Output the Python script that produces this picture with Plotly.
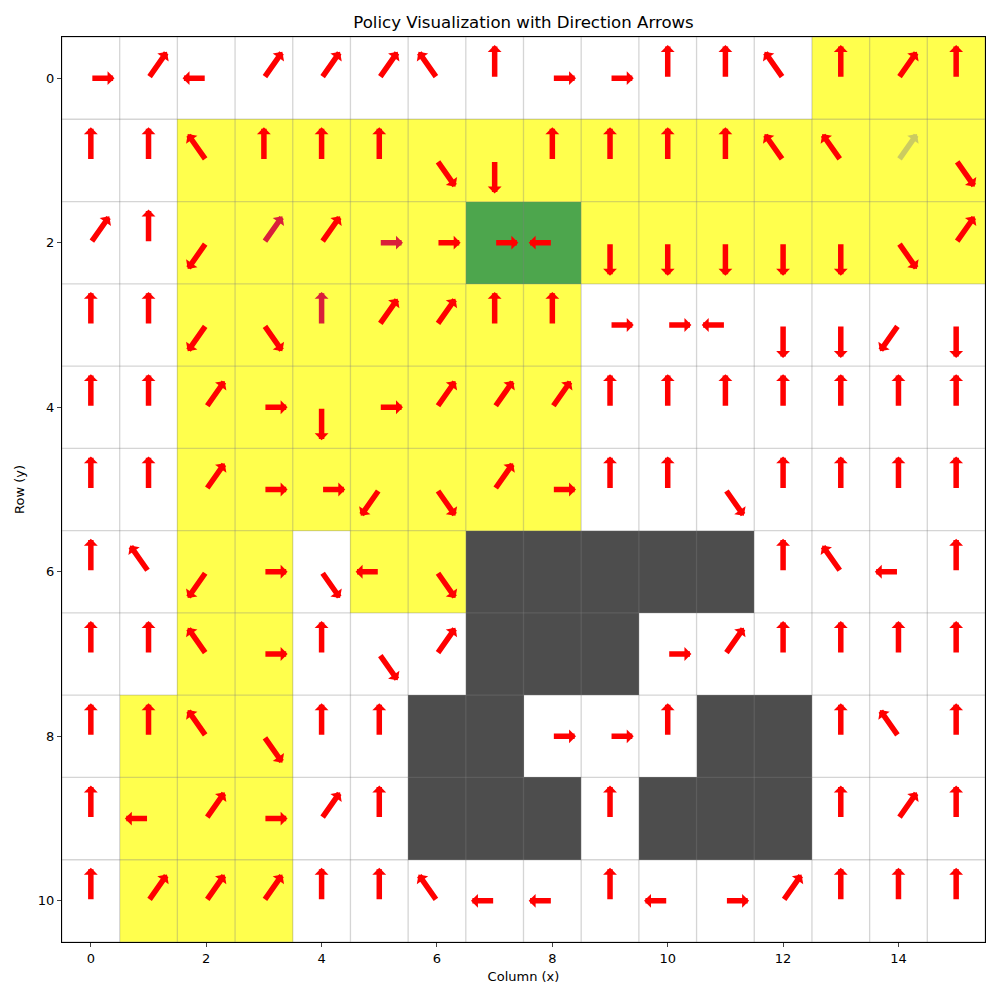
import plotly.graph_objects as go

# ---- data ----
CELL_ROWS = [
    "WWWWWWWWWWWWWYYY",
    "WWYYYYYYYYYYYYYY",
    "WWYYYYYGGYYYYYYY",
    "WWYYYYYYYWWWWWWW",
    "WWYYYYYYYWWWWWWW",
    "WWYYYYYYYWWWWWWW",
    "WWYYWYYXXXXXWWWW",
    "WWYYWWWXXXWWWWWW",
    "WYYYWWXXWWWXXWWW",
    "WYYYWWXXXWXXXWWW",
    "WYYYWWWWWWWWWWWW",
]

ARROWS = [
    ["R", "UR", "L", "UR", "UR", "UR", "UL", "U", "R", "R", "U", "U", "UL", "U", "UR", "U"],
    ["U", "U", "UL", "U", "U", "U", "DR", "D", "U", "U", "U", "U", "UL", "UL", "UR", "DR"],
    ["UR", "U", "DL", "UR", "UR", "R", "R", "R", "L", "D", "D", "D", "D", "D", "DR", "UR"],
    ["U", "U", "DL", "DR", "U", "UR", "UR", "U", "U", "R", "R", "L", "D", "D", "DL", "D"],
    ["U", "U", "UR", "R", "D", "R", "UR", "UR", "UR", "U", "U", "U", "U", "U", "U", "U"],
    ["U", "U", "UR", "R", "R", "DL", "DR", "UR", "R", "U", "U", "DR", "U", "U", "U", "U"],
    ["U", "UL", "DL", "R", "DR", "L", "DR", "", "", "", "", "", "U", "UL", "L", "U"],
    ["U", "U", "UL", "R", "U", "DR", "UR", "", "", "", "R", "UR", "U", "U", "U", "U"],
    ["U", "U", "UL", "DR", "U", "U", "", "", "R", "R", "U", "", "", "U", "UL", "U"],
    ["U", "L", "UR", "R", "UR", "U", "", "", "", "U", "", "", "", "U", "UR", "U"],
    ["U", "UR", "UR", "UR", "U", "U", "UL", "L", "L", "U", "L", "R", "UR", "U", "U", "U"],
]

X_TICKS = [0, 2, 4, 6, 8, 10, 12, 14]
Y_TICKS = [0, 2, 4, 6, 8, 10]

# ---- styles ----
CELL_CODE = {"W": 0, "Y": 1, "G": 2, "X": 3}
COLORSCALE = [[0.0, "#ffffff"], [1 / 3, "#ffff4d"], [2 / 3, "#4da64d"], [1.0, "#4d4d4d"]]
CARD = 0.41
DIAG = 0.32
VEC = {
    "R": (CARD, 0), "L": (-CARD, 0), "U": (0, -CARD * 0.98), "D": (0, CARD * 0.98),
    "UR": (DIAG, -DIAG), "UL": (-DIAG, -DIAG), "DR": (DIAG, DIAG), "DL": (-DIAG, DIAG),
}
FADED = {(1, 14)}
DARKER = {(2, 3), (2, 5), (3, 4)}

nrows = len(CELL_ROWS)
ncols = len(CELL_ROWS[0])
z = [[CELL_CODE[ch] for ch in row] for row in CELL_ROWS]

fig = go.Figure()
fig.add_trace(go.Heatmap(
    z=z, x=list(range(ncols)), y=list(range(nrows)),
    zmin=0, zmax=3, colorscale=COLORSCALE, showscale=False, hoverinfo="skip",
))

# grid lines at cell boundaries
gx, gy = [], []
for c in range(ncols + 1):
    gx += [c - 0.5, c - 0.5, None]
    gy += [-0.5, nrows - 0.5, None]
for r in range(nrows + 1):
    gx += [-0.5, ncols - 0.5, None]
    gy += [r - 0.5, r - 0.5, None]
fig.add_trace(go.Scatter(x=gx, y=gy, mode="lines",
                         line=dict(color="rgba(128,128,128,0.33)", width=1.3),
                         hoverinfo="skip", showlegend=False))

annotations = []
for r, row in enumerate(ARROWS):
    for c, d in enumerate(row):
        if not d:
            continue
        dx, dy = VEC[d]
        color = "#ff0000"
        if (r, c) in FADED:
            color = "rgba(128,128,128,0.4)"
        elif (r, c) in DARKER:
            color = "#d91f3a"
        annotations.append(dict(
            x=c + dx, y=r + dy, ax=c, ay=r,
            xref="x", yref="y", axref="x", ayref="y",
            text="", showarrow=True, arrowhead=1, arrowsize=0.42,
            arrowwidth=5.5, arrowcolor=color, standoff=0, startstandoff=0,
        ))

font = "DejaVu Sans, Liberation Sans, sans-serif"
fig.update_layout(
    width=1000, height=1000,
    margin=dict(l=62, r=15, t=37, b=58),
    paper_bgcolor="white", plot_bgcolor="white",
    font=dict(family=font, size=13, color="black"),
    title=dict(text="Policy Visualization with Direction Arrows", x=0.5, xanchor="center",
               xref="paper", y=1 - 22 / 1000, yref="container", yanchor="middle",
               font=dict(size=16.6, family=font)),
    annotations=annotations,
    showlegend=False,
)
fig.update_xaxes(
    range=[-0.5, ncols - 0.5], tickvals=X_TICKS, ticks="outside", ticklen=4,
    showgrid=False, zeroline=False, showline=True, linecolor="black", linewidth=1,
    mirror=True, title=dict(text="Column (x)", standoff=7, font=dict(size=13)),
    tickfont=dict(size=13),
)
fig.update_yaxes(
    range=[nrows - 0.5, -0.5], tickvals=Y_TICKS, ticks="outside", ticklen=4,
    showgrid=False, zeroline=False, showline=True, linecolor="black", linewidth=1,
    mirror=True, title=dict(text="Row (y)", standoff=10, font=dict(size=13)),
    tickfont=dict(size=13),
)

fig.write_html("out.html")
